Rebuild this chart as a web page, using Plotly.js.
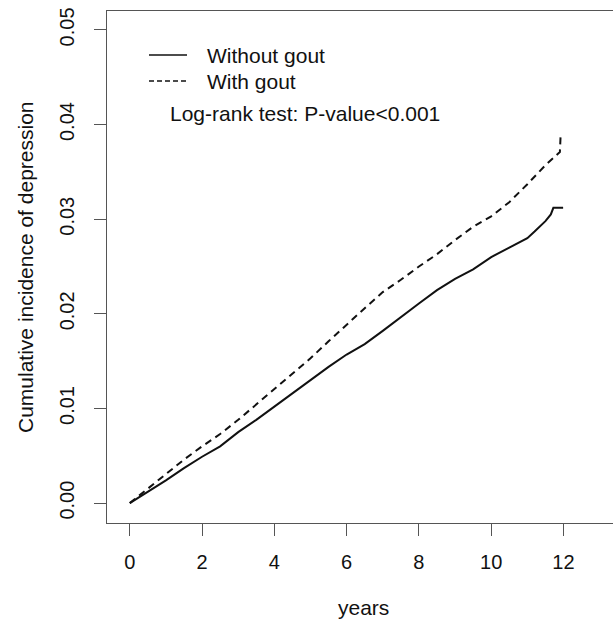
<!DOCTYPE html>
<html>
<head>
<meta charset="utf-8">
<script src="https://cdn.plot.ly/plotly-3.0.1.min.js"></script>
<style>html,body{margin:0;padding:0;background:#fff;}#chart{width:613px;height:622px;}</style>
</head>
<body>
<div id="chart"></div>
<script>
// Data
const yearsWithout = [0, 0.5, 1.0, 1.5, 2.0, 2.5, 3.0, 3.5, 4.0, 4.5, 5.0, 5.5, 6.0, 6.5, 7.0, 7.5, 8.0, 8.5, 9.0, 9.5, 10.0, 10.5, 11.0, 11.2, 11.5, 11.65, 11.72, 11.99];
const incWithout  = [0, 0.0012, 0.0024, 0.0037, 0.0049, 0.0060, 0.0075, 0.0088, 0.0102, 0.0116, 0.0130, 0.0144, 0.0157, 0.0168, 0.0182, 0.0197, 0.0211, 0.0225, 0.0237, 0.0247, 0.0260, 0.0270, 0.0280, 0.0287, 0.0298, 0.0305, 0.0312, 0.0312];
const yearsWith = [0, 0.5, 1.0, 1.5, 2.0, 2.5, 3.0, 3.5, 4.0, 4.5, 5.0, 5.5, 6.0, 6.5, 7.0, 7.5, 8.0, 8.5, 9.0, 9.5, 10.0, 10.5, 11.0, 11.5, 11.9, 11.92];
const incWith   = [0, 0.0015, 0.0031, 0.0046, 0.0060, 0.0073, 0.0088, 0.0104, 0.0120, 0.0137, 0.0153, 0.0171, 0.0189, 0.0206, 0.0223, 0.0236, 0.0250, 0.0263, 0.0278, 0.0292, 0.0303, 0.0318, 0.0337, 0.0357, 0.0371, 0.0388];
const seriesNames = ["Without gout", "With gout"];
const xTicks = [0, 2, 4, 6, 8, 10, 12];
const yTicks = [0.00, 0.01, 0.02, 0.03, 0.04, 0.05];
const yTickText = ["0.00", "0.01", "0.02", "0.03", "0.04", "0.05"];
const annotationText = "Log-rank test: P-value<0.001";
const xTitle = "years";
const yTitle = "Cumulative incidence of depression";

const FONT = "Liberation Sans, Arial, Helvetica, sans-serif";
const INK = "#111";
const AX = "#555";

const traces = [
  {x: yearsWithout, y: incWithout, name: seriesNames[0], type: "scatter", mode: "lines",
   line: {color: INK, width: 2, shape: "linear"}},
  {x: yearsWith, y: incWith, name: seriesNames[1], type: "scatter", mode: "lines",
   line: {color: INK, width: 2, dash: "7px,5px", shape: "linear"}}
];

// paper helpers (plot area 107..613 x 11..523)
const px = v => (v - 107) / 506;
const py = v => (523 - v) / 512;

const layout = {
  width: 613, height: 622,
  margin: {l: 107, r: 0, t: 11, b: 99, pad: 0},
  paper_bgcolor: "#fff", plot_bgcolor: "#fff",
  showlegend: false,
  font: {family: FONT, color: INK, size: 20},
  xaxis: {
    range: [-0.63, 13.37], tickvals: xTicks, ticktext: xTicks.map(String),
    showgrid: false, zeroline: false, showline: true, mirror: true,
    linecolor: AX, linewidth: 1, ticks: "outside", ticklen: 12, tickwidth: 1, tickcolor: AX,
    tickfont: {family: FONT, size: 20, color: INK}, ticklabelstandoff: 9
  },
  yaxis: {
    range: [-0.0021, 0.052], tickvals: yTicks, ticktext: yTickText,
    showgrid: false, zeroline: false, showline: true, mirror: false,
    linecolor: AX, linewidth: 1, ticks: "outside", ticklen: 12, tickwidth: 1, tickcolor: AX,
    tickangle: -90, tickfont: {family: FONT, size: 20, color: INK}, ticklabelstandoff: 12
  },
  shapes: [
    {type: "line", xref: "paper", yref: "paper", x0: px(149), x1: px(187), y0: py(55), y1: py(55),
     line: {color: INK, width: 1.3}},
    {type: "line", xref: "paper", yref: "paper", x0: px(149), x1: px(187), y0: py(81), y1: py(81),
     line: {color: INK, width: 1.3, dash: "5px,3px"}}
  ],
  annotations: [
    {xref: "paper", yref: "paper", x: px(205), y: py(55), xanchor: "left", yanchor: "middle",
     text: seriesNames[0], showarrow: false, font: {family: FONT, size: 21, color: INK}},
    {xref: "paper", yref: "paper", x: px(205), y: py(81), xanchor: "left", yanchor: "middle",
     text: seriesNames[1], showarrow: false, font: {family: FONT, size: 21, color: INK}},
    {xref: "paper", yref: "paper", x: px(168), y: py(113), xanchor: "left", yanchor: "middle",
     text: annotationText, showarrow: false, font: {family: FONT, size: 21, color: INK}},
    {xref: "paper", yref: "paper", x: px(363), y: py(607), xanchor: "center", yanchor: "middle",
     text: xTitle, showarrow: false, font: {family: FONT, size: 21, color: INK}},
    {xref: "paper", yref: "paper", x: px(25), y: py(267), xanchor: "center", yanchor: "middle",
     text: yTitle, textangle: -90, showarrow: false, font: {family: FONT, size: 21, color: INK}}
  ]
};

Plotly.newPlot("chart", traces, layout, {staticPlot: true, displayModeBar: false});
</script>
</body>
</html>
